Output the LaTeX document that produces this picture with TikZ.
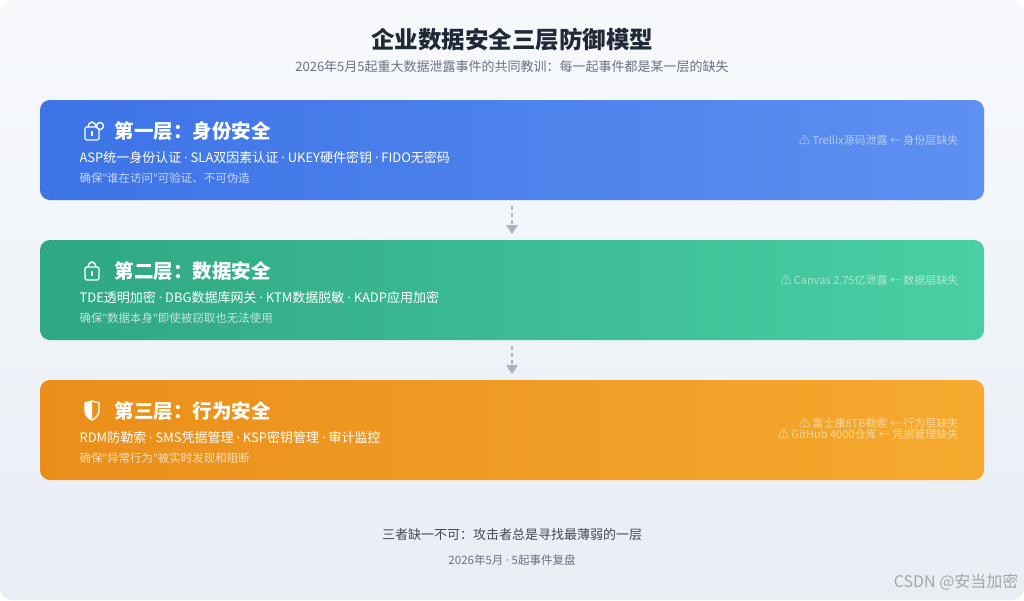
\documentclass[tikz,border=0pt]{standalone}
\usepackage{fontspec}
\setmainfont{Noto Sans CJK SC}
\newfontfamily\latf{Noto Sans}
\usetikzlibrary{arrows.meta}
\definecolor{bgA}{HTML}{F7F9FC}
\definecolor{bgB}{HTML}{E9EEF5}
\definecolor{tdark}{HTML}{1F2937}
\definecolor{tgray}{HTML}{6B7280}
\definecolor{b1}{HTML}{3C73E6}\definecolor{b2}{HTML}{5E90F1}
\definecolor{g1}{HTML}{2EA783}\definecolor{g2}{HTML}{4ACFA5}
\definecolor{o1}{HTML}{EA8E1A}\definecolor{o2}{HTML}{F5AA2E}
\definecolor{conn}{HTML}{A8B4C4}
\newcommand{\fs}[1]{\fontsize{#1}{#1}\selectfont}
\newcommand{\md}{{\latf ·}}
\newcommand{\qq}{{\latf\char"0022}}
\tikzset{
 card/.style={rounded corners=10pt, draw=none},
 ttl/.style={anchor=west, text=white, font=\fs{19.5}\bfseries},
 items/.style={anchor=west, text=white, font=\fs{13}},
 desc/.style={anchor=west, text=white, text opacity=0.7, font=\fs{11.5}},
 note/.style={anchor=east, text=white, text opacity=0.55, font=\fs{11}, align=right},
 icon/.style={draw=white, line width=1.4pt},
 conn/.style={draw=conn, line width=1.2pt, dash pattern=on 4pt off 3pt},
 tip/.style={fill=conn, draw=none}
}
\begin{document}
\begin{tikzpicture}[x=1pt,y=-1pt]
\useasboundingbox (0,0) rectangle (1024,600);
\shade[top color=bgA, bottom color=bgB, rounded corners=12pt] (0,0) rectangle (1024,600);
\node[font=\fs{23.5}\bfseries, text=tdark] (title) at (512,40) {企业数据安全三层防御模型};
\node[font=\fs{13}, text=tgray] (sub) at (512,67) {2026年5月5起重大数据泄露事件的共同教训：每一起事件都是某一层的缺失};
% cards
\shade[card, left color=b1, right color=b2] (40,100) rectangle (984,200);
\shade[card, left color=g1, right color=g2] (40,240) rectangle (984,340);
\shade[card, left color=o1, right color=o2] (40,380) rectangle (984,480);
\coordinate (c1) at (512,206); \coordinate (c2) at (512,224);
\coordinate (c3) at (512,346); \coordinate (c4) at (512,364);
% layer 1
\draw[icon, rounded corners=1.5pt] (85,127) rectangle (99,140);
\draw[icon] (88,127) arc(180:360:4 and 5);
\fill[b1] (100,126) circle(3.5);
\draw[icon] (100,126) circle(3.5);
\draw[icon] (92,131) -- (92,136);
\node[ttl] (t1) at (111,131) {第一层：身份安全};
\node[items] (i1) at (76,158) {ASP统一身份认证 \md{} SLA双因素认证 \md{} UKEY硬件密钥 \md{} FIDO无密码};
\node[desc] (d1) at (76,178) {确保\qq{}谁在访问\qq{}可验证、不可伪造};
\node[note] (n1) at (962,140) {⚠ Trellix源码泄露 ← 身份层缺失};
% layer 2
\draw[icon, rounded corners=1.5pt] (85,267) rectangle (99,280);
\draw[icon] (88,267) arc(180:360:4 and 5);
\draw[icon] (92,271) -- (92,276);
\node[ttl] (t2) at (111,271) {第二层：数据安全};
\node[items] (i2) at (76,298) {TDE透明加密 \md{} DBG数据库网关 \md{} KTM数据脱敏 \md{} KADP应用加密};
\node[desc] (d2) at (76,318) {确保\qq{}数据本身\qq{}即使被窃取也无法使用};
\node[note] (n2) at (962,280) {⚠ Canvas 2.75亿泄露 ← 数据层缺失};
% layer 3
\draw[icon] (85,403) -- (92,401) -- (99,403) -- (99,410) .. controls (99,415) and (96,418) .. (92,420) .. controls (88,418) and (85,415) .. (85,410) -- cycle;
\fill[white] (92,401) -- (85,403) -- (85,410) .. controls (85,415) and (88,418) .. (92,420) -- cycle;
\node[ttl] (t3) at (111,411) {第三层：行为安全};
\node[items] (i3) at (76,438) {RDM防勒索 \md{} SMS凭据管理 \md{} KSP密钥管理 \md{} 审计监控};
\node[desc] (d3) at (76,458) {确保\qq{}异常行为\qq{}被实时发现和阻断};
\node[note] (n3) at (962,429) {⚠ 富士康8TB勒索 ← 行为层缺失\\⚠ GitHub 4000仓库 ← 凭据管理缺失};
% connectors
\draw[conn] (c1) -- (c2);
\fill[tip] (506,225) -- (518,225) -- (512,234) -- cycle;
\draw[conn] (c3) -- (c4);
\fill[tip] (506,365) -- (518,365) -- (512,374) -- cycle;
% footer
\node[font=\fs{13}, text=tdark!85] (f1) at (512,535) {三者缺一不可：攻击者总是寻找最薄弱的一层};
\node[font=\fs{11.5}, text=tgray] (f2) at (512,560) {2026年5月 \md{} 5起事件复盘};
\node[font=\fs{16}, text=gray!70, anchor=east] (wm) at (1022,582) {CSDN @安当加密};
\end{tikzpicture}
\end{document}
